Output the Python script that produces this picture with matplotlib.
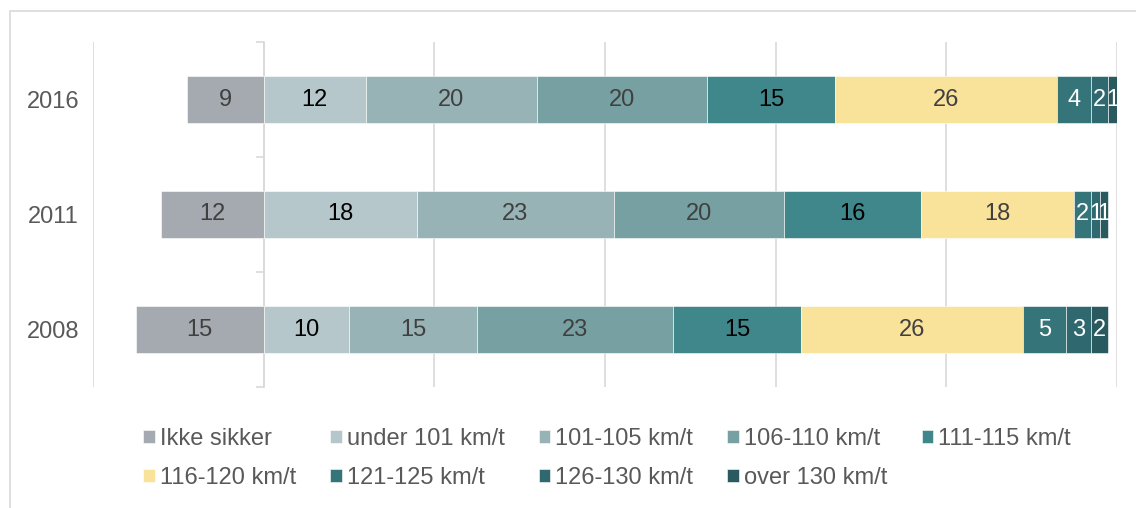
import matplotlib.pyplot as plt
from matplotlib.patches import Rectangle

plt.rcParams['font.family'] = ['Liberation Sans', 'DejaVu Sans']

years = ['2008', '2011', '2016']
ikke_sikker = [15, 12, 9]
speed_labels = ['under 101 km/t', '101-105 km/t', '106-110 km/t', '111-115 km/t',
                '116-120 km/t', '121-125 km/t', '126-130 km/t', 'over 130 km/t']
speed_values = [
    [10, 18, 12],   # under 101
    [15, 23, 20],   # 101-105
    [23, 20, 20],   # 106-110
    [15, 16, 15],   # 111-115
    [26, 18, 26],   # 116-120
    [5, 2, 4],      # 121-125
    [3, 1, 2],      # 126-130
    [2, 1, 1],      # over 130
]

ikke_color = '#A4AAB0'
speed_colors = ['#B5C7CA', '#98B3B6', '#77A0A2', '#3F878A',
                '#F9E29A', '#357479', '#2F686E', '#295A5F']
label_colors = ['black', '#404040', '#404040', 'black',
                '#404040', 'white', 'white', 'white']

fig = plt.figure(figsize=(11.36, 5.08), dpi=100)
ax = fig.add_axes([93 / 1136, 1 - 387 / 508, 1024 / 1136, 345 / 508])

ypos = range(len(years))
bar_h = 0.41

# "Ikke sikker" goes to the left of zero
bars = ax.barh(ypos, [-v for v in ikke_sikker], height=bar_h, color=ikke_color,
               edgecolor='white', linewidth=0.4, label='Ikke sikker', zorder=2)
ax.bar_label(bars, labels=[str(v) for v in ikke_sikker], label_type='center',
             color='#404040', fontsize=17)
handles = [bars]

left = [0] * len(years)
for name, vals, col, tcol in zip(speed_labels, speed_values, speed_colors, label_colors):
    b = ax.barh(ypos, vals, left=left, height=bar_h, color=col,
                edgecolor='white', linewidth=0.4, label=name, zorder=2)
    ax.bar_label(b, labels=[str(v) for v in vals], label_type='center',
                 color=tcol, fontsize=17)
    handles.append(b)
    left = [l + v for l, v in zip(left, vals)]

ax.set_xlim(-20, 100)
ax.set_ylim(-0.5, 2.5)
ax.set_xticks(range(-20, 101, 20))
ax.tick_params(axis='x', length=0, labelbottom=False)
ax.grid(axis='x', color='#D9D9D9', linewidth=1.2, zorder=0)
ax.set_axisbelow(True)
ax.set_yticks(list(ypos), years)
ax.tick_params(axis='y', length=0, pad=10, labelsize=17, labelcolor='#595959')
for s in ax.spines.values():
    s.set_visible(False)

# category axis sits at zero
zero_ax = ax.secondary_yaxis(20 / 120)
zero_ax.set_yticks([-0.5, 0.5, 1.5, 2.5])
zero_ax.tick_params(axis='y', direction='out', length=6, width=1.2,
                    color='#D9D9D9', labelleft=False)
zero_ax.spines['left'].set_color('#D9D9D9')
zero_ax.spines['left'].set_linewidth(1.2)

# legend filled row by row
order = [0, 5, 1, 6, 2, 7, 3, 8, 4]
leg = fig.legend([handles[i] for i in order],
                 [handles[i].get_label() for i in order],
                 ncol=5, frameon=False, loc='upper left',
                 bbox_to_anchor=(143 / 1136, 1 - 428 / 508),
                 borderpad=0, borderaxespad=0, fontsize=17,
                 handlelength=0.5, handleheight=0.5, handletextpad=0.2,
                 columnspacing=1.45, labelspacing=0.72, labelcolor='#595959')

fig.patches.append(Rectangle((10 / 1136, -0.1), 1.1, 1 - 11 / 508 + 0.1,
                             transform=fig.transFigure, fill=False,
                             edgecolor='#D9D9D9', linewidth=1.2))

fig.savefig('out.png', dpi=100)
